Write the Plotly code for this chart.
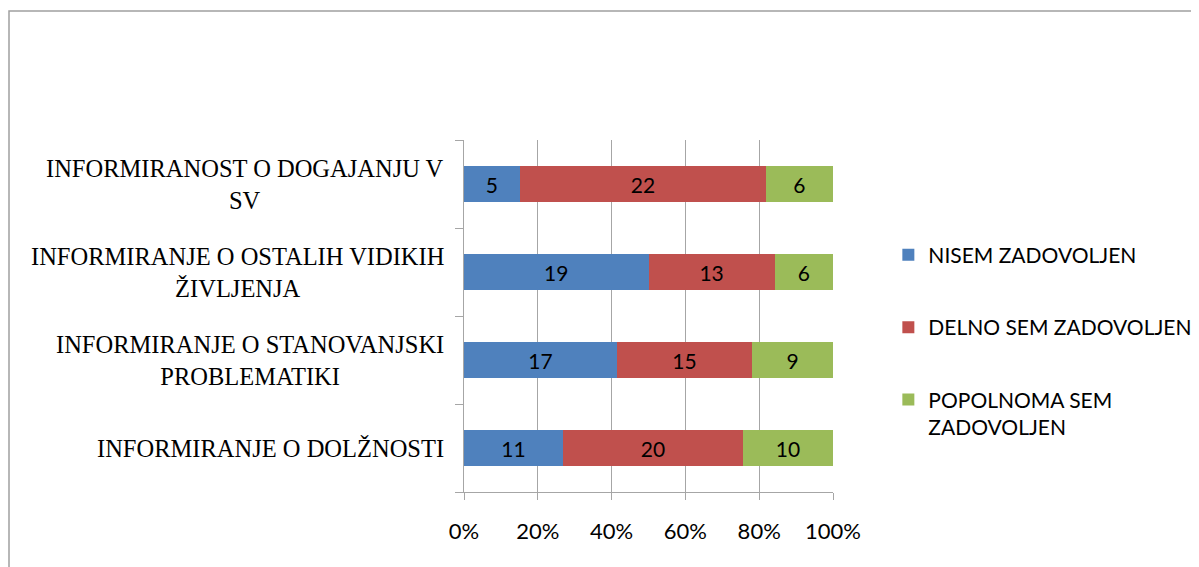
import plotly.graph_objects as go

categories = [
    "INFORMIRANJE O DOLŽNOSTI",
    "INFORMIRANJE O STANOVANJSKI PROBLEMATIKI",
    "INFORMIRANJE O OSTALIH VIDIKIH ŽIVLJENJA",
    "INFORMIRANOST O DOGAJANJU V SV",
]
category_labels = [
    "INFORMIRANJE O DOLŽNOSTI",
    "INFORMIRANJE O STANOVANJSKI<br>PROBLEMATIKI",
    "INFORMIRANJE O OSTALIH VIDIKIH<br>ŽIVLJENJA",
    "INFORMIRANOST O DOGAJANJU V<br>SV",
]
series_names = ["NISEM ZADOVOLJEN", "DELNO SEM ZADOVOLJEN", "POPOLNOMA SEM<br>ZADOVOLJEN"]
nisem = [11, 17, 19, 5]
delno = [20, 15, 13, 22]
popolnoma = [10, 9, 6, 6]
colors = ["#4F81BD", "#C0504D", "#9BBB59"]
x_ticks = [0, 20, 40, 60, 80, 100]

sans = "Lato, 'Open Sans', sans-serif"
serif = "'Liberation Serif', 'Times New Roman', serif"

fig = go.Figure()
for i, (name, vals) in enumerate(zip(series_names, [nisem, delno, popolnoma])):
    fig.add_trace(go.Bar(
        y=categories, x=vals, name=name, orientation="h",
        marker=dict(color=colors[i], line=dict(width=0)),
        text=vals, textposition="inside", insidetextanchor="middle",
        textfont=dict(family=sans, size=21, color="black"),
        constraintext="none", legendgroup=f"g{i}",
        hoverinfo="x+y+name",
    ))

PL, PT, PW, PH = 456, 132, 369, 352

fig.update_layout(
    barmode="stack", barnorm="percent", bargap=0.58,
    width=1199, height=567,
    margin=dict(l=PL, r=1199 - PL - PW, t=PT, b=567 - PT - PH, autoexpand=False),
    paper_bgcolor="white", plot_bgcolor="white",
    font=dict(family=sans, size=21, color="black"),
    showlegend=True,
    legend=dict(
        x=1.15, xanchor="left", y=0.731, yanchor="top",
        traceorder="grouped", tracegroupgap=42, valign="top",
        font=dict(family=sans, size=21, color="black"),
        bgcolor="rgba(0,0,0,0)",
    ),
    xaxis=dict(
        range=[0, 100], tickvals=x_ticks, ticktext=[f"{v}%" for v in x_ticks],
        showgrid=True, gridcolor="#A6A6A6", gridwidth=1,
        showline=True, linecolor="#A6A6A6", linewidth=1,
        ticks="outside", ticklen=7, tickcolor="#A6A6A6", ticklabelstandoff=13,
        tickfont=dict(family=sans, size=22), zeroline=False, fixedrange=True,
    ),
    yaxis=dict(
        categoryorder="array", categoryarray=categories,
        showticklabels=False, showline=True, linecolor="#A6A6A6", linewidth=1,
        ticks="outside", ticklen=8, tickcolor="#A6A6A6", tickson="boundaries",
        showgrid=False, fixedrange=True,
    ),
)

for cat, lab in zip(categories, category_labels):
    fig.add_annotation(
        x=0, xref="paper", y=cat, yref="y", text=lab, showarrow=False,
        xanchor="right", yanchor="middle", align="center", xshift=-18,
        font=dict(family=serif, size=24.5, color="black"),
    )

# outer chart border
fig.add_shape(type="rect", xref="paper", yref="paper",
              x0=(1 - PL) / PW, x1=(1210 - PL) / PW,
              y0=(PT + PH - 580) / PH, y1=(PT + PH - 3) / PH,
              line=dict(color="#A0A0A0", width=1.5), fillcolor="rgba(0,0,0,0)", layer="below")

fig.write_html("out.html")
